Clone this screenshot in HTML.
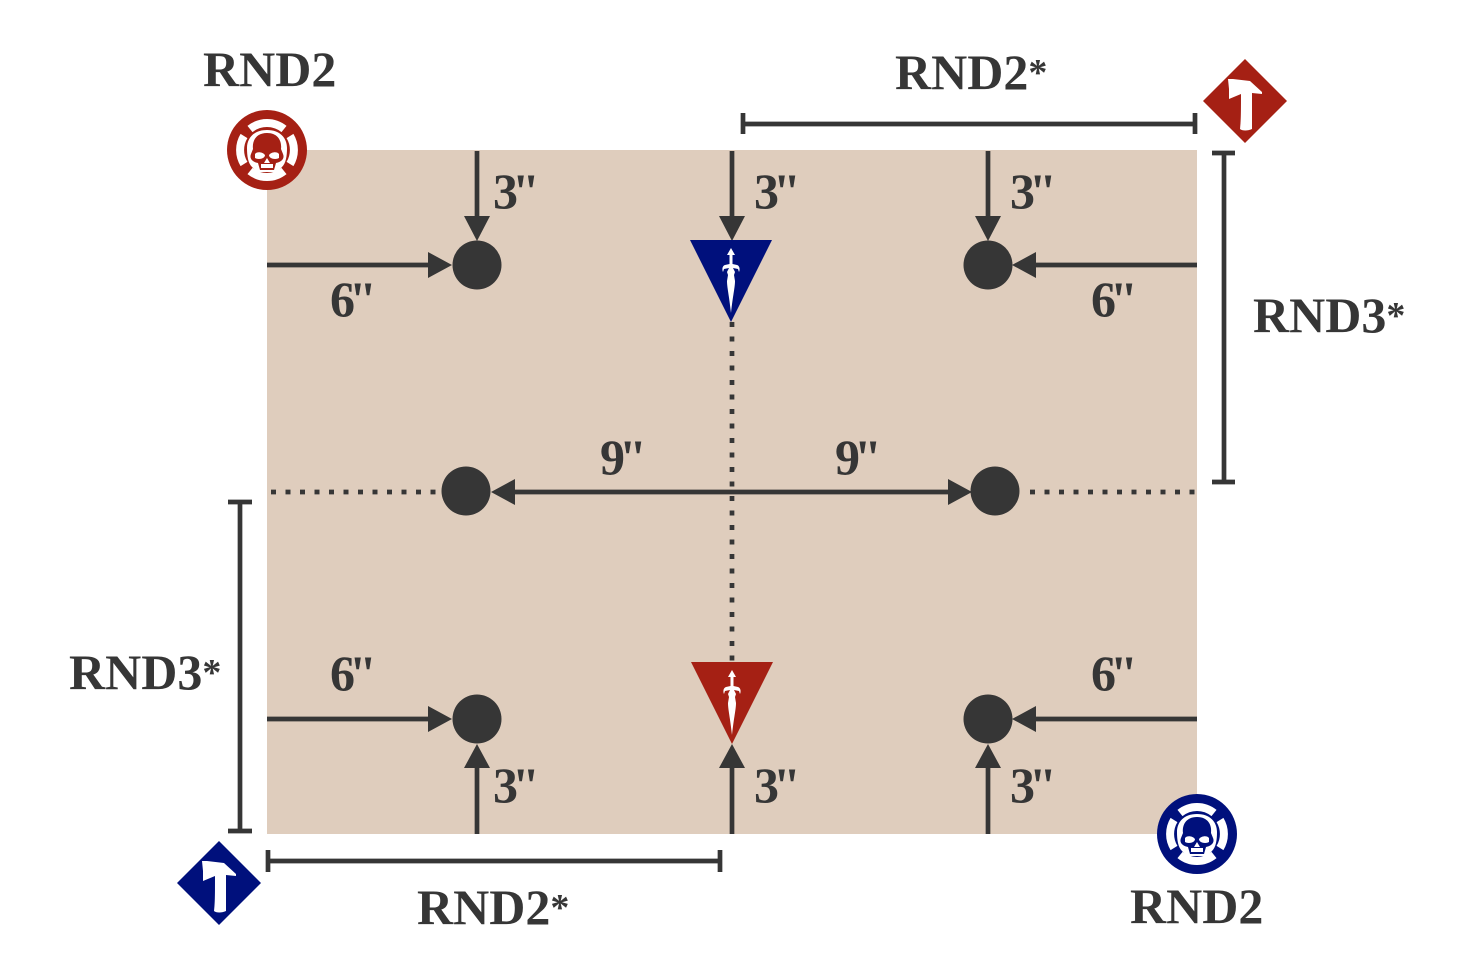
<!DOCTYPE html>
<html><head><meta charset="utf-8"><style>
html,body{margin:0;padding:0;background:#fff}
svg{display:block}
text{font-family:"Liberation Serif",serif;font-weight:bold;fill:#363636;font-size:50px}
.n{font-size:50px}
.s{stroke:#363636;stroke-width:4.7;fill:none}
.d{stroke:#363636;stroke-width:4.7;fill:none;stroke-dasharray:5 9.5}
.a{fill:#363636}
.w{fill:#fff}
</style></head><body>
<svg width="1466" height="960" viewBox="0 0 1466 960" xmlns="http://www.w3.org/2000/svg">
<defs>
<g id="skull">
<circle r="40"/>
<g fill="none" stroke="#fff" stroke-width="8">
<path d="M-17 -21 A27 27 0 0 1 17 -21"/>
<path d="M-23 -14 A27 27 0 0 0 -23 14"/>
<path d="M23 -14 A27 27 0 0 1 23 14"/>
<path d="M-17 21 A27 27 0 0 0 17 21"/>
</g>
<path class="w" d="M0 -20C-13 -20 -20 -12 -20 -2C-20 6 -19 13 -15 17C-12 20 -11 22 -9 22L9 22C11 22 12 20 15 17C19 13 20 6 20 -2C20 -12 13 -20 0 -20Z"/>
<path fill="currentColor" d="M0 -17C-11 -17 -15 -9 -14 -1L-16 4C-18 9 -14 12 -9 13L-7 20L7 20L9 13C14 12 18 9 16 4L14 -1C15 -9 11 -17 0 -17Z"/>
<path class="w" d="M-12 4C-10 1 -4 2 -2 5C-2 9 -9 10 -12 8ZM12 4C10 1 4 2 2 5C2 9 9 10 12 8ZM0 8L3 13L-3 13ZM-6 14H6V18H-6Z"/>
</g>
<g id="hammer">
<path d="M0 -42L42 0L0 42L-42 0Z"/>
<path class="w" d="M-17 -22L-12 -22L5 -20L17 -9L17 -7L7 -8L7 6L7 28C3 30 -3 30 -5 28C-4 20 -4 10 -4 -7L-16 -2L-16 -12Z"/>
</g>
<g id="dagger">
<path d="M-41 -41L41 -41L0 41Z"/>
<path class="w" d="M0 -33L4 -26L1.500 -26L1.500 -17L6 -16C9 -15 9 -11 8 -9L7 -12L2 -13L4 -9L3 -6L4 0C4 6 2 14 0 32C-2 14 -4 6 -4 0L-3 -6L-4 -9L-2 -13L-7 -12L-8 -9C-9 -11 -9 -15 -6 -16L-1.500 -17L-1.500 -26L-4 -26Z"/>
</g>
</defs>

<rect x="267" y="150" width="930" height="684" fill="#dfcdbd"/>

<path class="d" d="M732 322V662"/>
<path class="d" d="M271 492H436"/>
<path class="d" d="M1030 492H1197"/>

<path class="s" d="M477 151V218M732 151V218M988 151V218"/>
<path class="a" d="M464 216H490L477 241ZM719 216H745L732 241ZM975 216H1001L988 241Z"/>
<path class="s" d="M477 834V766M732 834V766M988 834V766"/>
<path class="a" d="M464 768H490L477 744ZM719 768H745L732 744ZM975 768H1001L988 744Z"/>
<path class="s" d="M267 265H432M267 719H432M1197 265H1032M1197 719H1032"/>
<path class="a" d="M428 252V278L452 265ZM428 706V732L452 719ZM1036 252V278L1012 265ZM1036 706V732L1012 719Z"/>
<path class="s" d="M510 492H954"/>
<path class="a" d="M515 479V505L491 492ZM948 479V505L972 492Z"/>

<circle class="a" cx="477" cy="265" r="24.500"/>
<circle class="a" cx="988" cy="265" r="24.500"/>
<circle class="a" cx="466" cy="491" r="24.500"/>
<circle class="a" cx="995" cy="491" r="24.500"/>
<circle class="a" cx="477" cy="719" r="24.500"/>
<circle class="a" cx="988" cy="719" r="24.500"/>

<path class="s" d="M743 124H1195M743 113V134M1195 113V134"/>
<path class="s" d="M1224 153V482M1212 153H1235M1212 482H1235"/>
<path class="s" d="M240 502V831M228 502H252M228 831H252"/>
<path class="s" d="M268 861H720M268 850V872M720 850V872"/>

<use href="#skull" x="267" y="150" fill="#a52014" color="#a52014"/>
<use href="#skull" x="1197" y="834" fill="#00107c" color="#00107c"/>
<use href="#hammer" x="1245" y="101" fill="#a52014"/>
<use href="#hammer" x="219" y="883" fill="#00107c"/>
<use href="#dagger" x="731" y="281" fill="#00107c"/>
<use href="#dagger" x="732" y="703" fill="#a52014"/>

<text class="n" x="203" y="86">RND2</text>
<text class="n" x="1130" y="923">RND2</text>
<text class="n" x="895" y="89">RND2<tspan font-size="38" dy="-4">*</tspan></text>
<text class="n" x="417" y="924">RND2<tspan font-size="38" dy="-4">*</tspan></text>
<text class="n" x="1253" y="332">RND3<tspan font-size="38" dy="-4">*</tspan></text>
<text class="n" x="69" y="689">RND3<tspan font-size="38" dy="-4">*</tspan></text>

<text x="493" y="208">3<tspan dx="-6">"</tspan></text>
<text x="754" y="208">3<tspan dx="-6">"</tspan></text>
<text x="1010" y="208">3<tspan dx="-6">"</tspan></text>
<text x="330" y="316">6<tspan dx="-6">"</tspan></text>
<text x="1091" y="316">6<tspan dx="-6">"</tspan></text>
<text x="600" y="474">9<tspan dx="-6">"</tspan></text>
<text x="835" y="474">9<tspan dx="-6">"</tspan></text>
<text x="330" y="690">6<tspan dx="-6">"</tspan></text>
<text x="1091" y="690">6<tspan dx="-6">"</tspan></text>
<text x="493" y="802">3<tspan dx="-6">"</tspan></text>
<text x="754" y="802">3<tspan dx="-6">"</tspan></text>
<text x="1010" y="802">3<tspan dx="-6">"</tspan></text>
</svg>
</body></html>
